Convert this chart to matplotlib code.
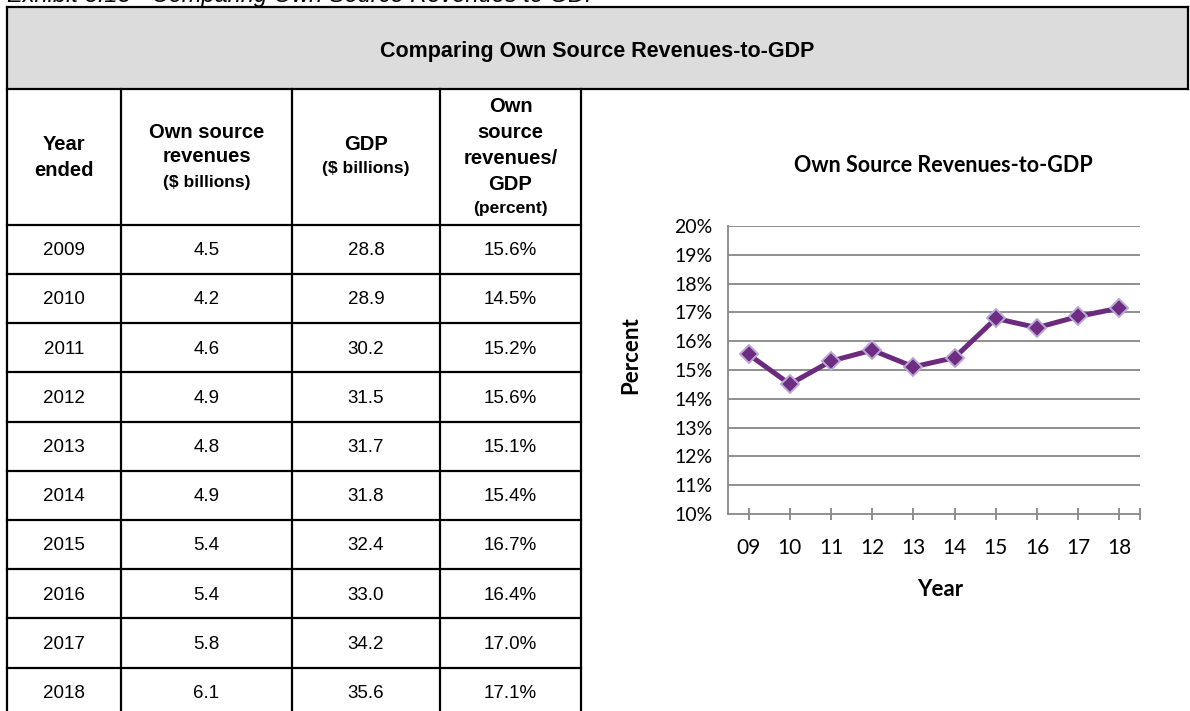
import matplotlib
matplotlib.use('Agg')
import matplotlib.pyplot as plt
from matplotlib.patches import Rectangle

# ---------------- data ----------------
years = ['2009', '2010', '2011', '2012', '2013', '2014', '2015', '2016', '2017', '2018']
own_source_revenues = [4.5, 4.2, 4.6, 4.9, 4.8, 4.9, 5.4, 5.4, 5.8, 6.1]
gdp_values = [28.8, 28.9, 30.2, 31.5, 31.7, 31.8, 32.4, 33.0, 34.2, 35.6]
ratio_pct = [15.6, 14.5, 15.2, 15.6, 15.1, 15.4, 16.7, 16.4, 17.0, 17.1]

chart_categories = ['09', '10', '11', '12', '13', '14', '15', '16', '17', '18']
chart_pct = [15.54, 14.51, 15.31, 15.69, 15.11, 15.43, 16.79, 16.47, 16.86, 17.15]
y_tick_values = [10, 11, 12, 13, 14, 15, 16, 17, 18, 19, 20]

caption = 'Exhibit 3.13 - Comparing Own Source Revenues to GDP'
banner_title = 'Comparing Own Source Revenues-to-GDP'
chart_title = 'Own Source Revenues-to-GDP'

# ---------------- figure ----------------
W, H = 1190, 711
fig = plt.figure(figsize=(W / 100, H / 100), dpi=100)
fig.patch.set_facecolor('white')

bg = fig.add_axes([0, 0, 1, 1])
bg.set_xlim(0, W)
bg.set_ylim(H, 0)
bg.axis('off')

TF = ['Liberation Sans', 'DejaVu Sans']
CF = ['Lato', 'DejaVu Sans']

# caption (cut off at top, as in the original page)
bg.text(7, 2, caption, ha='left', va='baseline', fontsize=17, style='italic',
        family=TF, color='black')

# banner
left, right = 7, 1188
top, band_bot = 7, 89
head_bot = 224.7
row_h = 49.2
col_x = [7, 121, 292, 440, 581]
bg.add_patch(Rectangle((left, top), right - left, band_bot - top, fc='#DCDCDC', ec='none', zorder=1))
lw = 1.6
kw = dict(color='black', lw=lw, solid_capstyle='projecting', zorder=3)
bg.plot([left, right], [top, top], **kw)
bg.plot([left, right], [band_bot, band_bot], **kw)
bg.plot([left, left], [top, H + 5], **kw)
bg.plot([right, right], [top, band_bot], **kw)
for x in col_x[1:]:
    bg.plot([x, x], [band_bot, H + 5], **kw)
for k in range(len(years)):
    y = head_bot + k * row_h
    bg.plot([left, col_x[-1]], [y, y], **kw)

bg.text((left + right) / 2, 51, banner_title, ha='center', va='center',
        fontsize=15.5, weight='bold', family=TF)

# column headers
hs = 14.5
ss = 12.5
cx = [(col_x[i] + col_x[i + 1]) / 2 for i in range(4)]
bg.text(cx[0], 144, 'Year', ha='center', va='center', fontsize=hs, weight='bold', family=TF)
bg.text(cx[0], 170, 'ended', ha='center', va='center', fontsize=hs, weight='bold', family=TF)
bg.text(cx[1], 132, 'Own source', ha='center', va='center', fontsize=hs, weight='bold', family=TF)
bg.text(cx[1], 157, 'revenues', ha='center', va='center', fontsize=hs, weight='bold', family=TF)
bg.text(cx[1], 182, '($ billions)', ha='center', va='center', fontsize=ss, weight='bold', family=TF)
bg.text(cx[2], 144, 'GDP', ha='center', va='center', fontsize=hs, weight='bold', family=TF)
bg.text(cx[2], 168, '($ billions)', ha='center', va='center', fontsize=ss, weight='bold', family=TF)
bg.text(cx[3], 106, 'Own', ha='center', va='center', fontsize=hs, weight='bold', family=TF)
bg.text(cx[3], 132, 'source', ha='center', va='center', fontsize=hs, weight='bold', family=TF)
bg.text(cx[3], 158, 'revenues/', ha='center', va='center', fontsize=hs, weight='bold', family=TF)
bg.text(cx[3], 184, 'GDP', ha='center', va='center', fontsize=hs, weight='bold', family=TF)
bg.text(cx[3], 208, '(percent)', ha='center', va='center', fontsize=ss, weight='bold', family=TF)

# data rows
ds = 13.5
for i, yr in enumerate(years):
    yc = head_bot + (i + 0.5) * row_h + 1.5
    vals = [yr, f'{own_source_revenues[i]:.1f}', f'{gdp_values[i]:.1f}', f'{ratio_pct[i]:.1f}%']
    for j, v in enumerate(vals):
        bg.text(cx[j], yc, v, ha='center', va='center', fontsize=ds, family=TF)

# ---------------- line chart ----------------
ax_l, ax_r, ax_t, ax_b = 728, 1140, 226, 514
ax = fig.add_axes([ax_l / W, 1 - ax_b / H, (ax_r - ax_l) / W, (ax_b - ax_t) / H])
ax.set_facecolor('none')
xs = list(range(len(chart_categories)))
ax.plot(xs, chart_pct, color='#6B2A7E', lw=3.6, marker='D', ms=9.5,
        mfc='#6E2C82', mec='#B9A8D4', mew=1.4, zorder=4, clip_on=False)
ax.set_xlim(-0.5, len(chart_categories) - 0.5)
ax.set_ylim(y_tick_values[0], y_tick_values[-1])
ax.set_yticks(y_tick_values)
ax.set_yticklabels([f'{v}%' for v in y_tick_values])
ax.set_xticks(xs + [len(chart_categories) - 0.5])
ax.set_xticklabels(chart_categories + [''])
grid_c = '#878787'
for v in y_tick_values[1:]:
    ax.axhline(v, color=grid_c, lw=1.3, zorder=1)
for s in ['top', 'right']:
    ax.spines[s].set_visible(False)
for s in ['left', 'bottom']:
    ax.spines[s].set_color(grid_c)
    ax.spines[s].set_linewidth(1.3)
ax.tick_params(axis='y', length=0, pad=11, labelsize=14)
ax.tick_params(axis='x', direction='inout', length=9, width=1.3, color=grid_c, pad=13, labelsize=15)
for lab in ax.get_xticklabels() + ax.get_yticklabels():
    lab.set_family(CF)

ax.set_ylabel('Percent', fontsize=16, weight='bold', family=CF, ha='center', va='center')
ax.yaxis.set_label_coords((631 - ax_l) / (ax_r - ax_l), (ax_b - 355) / (ax_b - ax_t))
ax.set_xlabel('Year', fontsize=16, weight='bold', family=CF, ha='center', va='center')
ax.xaxis.set_label_coords((940 - ax_l) / (ax_r - ax_l), (ax_b - 589) / (ax_b - ax_t))

bg.text(943, 165, chart_title, ha='center', va='center', fontsize=15.5, weight='bold', family=CF)

fig.savefig('out.png', dpi=100)
